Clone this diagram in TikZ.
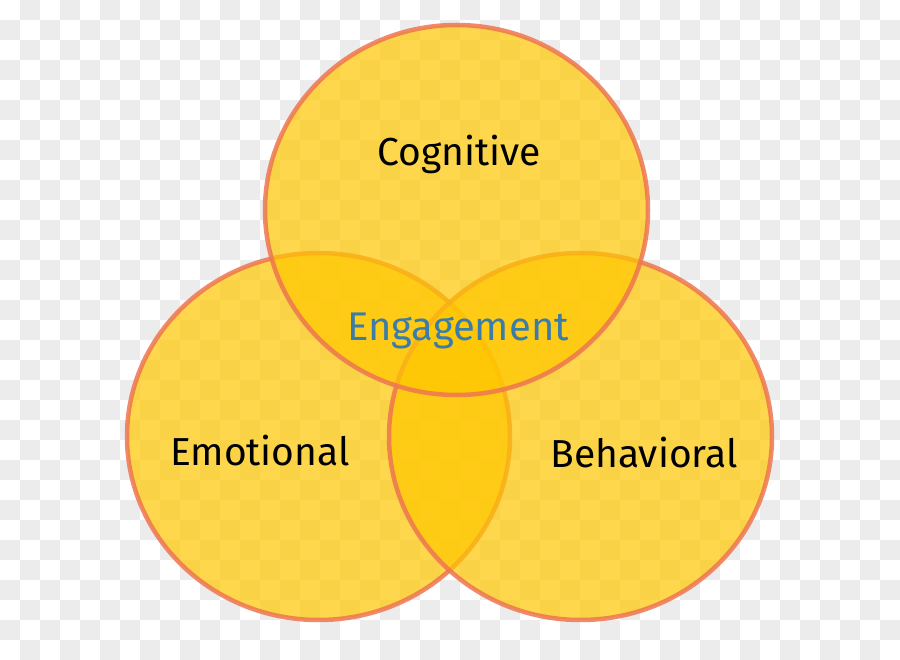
\documentclass[tikz,border=0pt]{standalone}
\usepackage{fontspec}
\setmainfont{Fira Sans}
\definecolor{fillyel}{RGB}{255,199,0}
\definecolor{rimcol}{RGB}{238,118,80}
\definecolor{checkgrey}{RGB}{236,236,236}
\definecolor{engblue}{RGB}{58,125,168}
\tikzset{
  setcircle/.style={fill=fillyel, fill opacity=0.7, draw=rimcol, draw opacity=0.85, line width=4.5pt},
  labeltext/.style={font=\fontsize{39}{44}\selectfont, text=black, inner sep=0pt},
  centretext/.style={font=\fontsize{40}{44}\selectfont, text=engblue, inner sep=0pt}
}
\begin{document}
\begin{tikzpicture}[x=1pt,y=-1pt]
\useasboundingbox (0,0) rectangle (900,660);
\fill[white] (0,0) rectangle (900,660);
\foreach \i in {0,...,44} {
  \foreach \j in {0,...,32} {
    \pgfmathtruncatemacro\chkpar{mod(\i+\j,2)}
    \ifnum\chkpar=1
      \fill[checkgrey] (20*\i,20*\j) rectangle ++(20,20);
    \fi
  }
}
\draw[setcircle] (318.5,436.5) ellipse [x radius=191.5pt, y radius=183.5pt];
\draw[setcircle] (580.5,436.5) ellipse [x radius=191.5pt, y radius=183.5pt];
\draw[setcircle] (456.5,210) ellipse [x radius=191.5pt, y radius=185pt];
\node[labeltext] (cog) at (459,154) {Cognitive};
\node[labeltext] (emo) at (260,451) {Emotional};
\node[labeltext] (beh) at (644,453) {Behavioral};
\node[centretext] (eng) at (458,331) {Engagement};
\end{tikzpicture}
\end{document}
